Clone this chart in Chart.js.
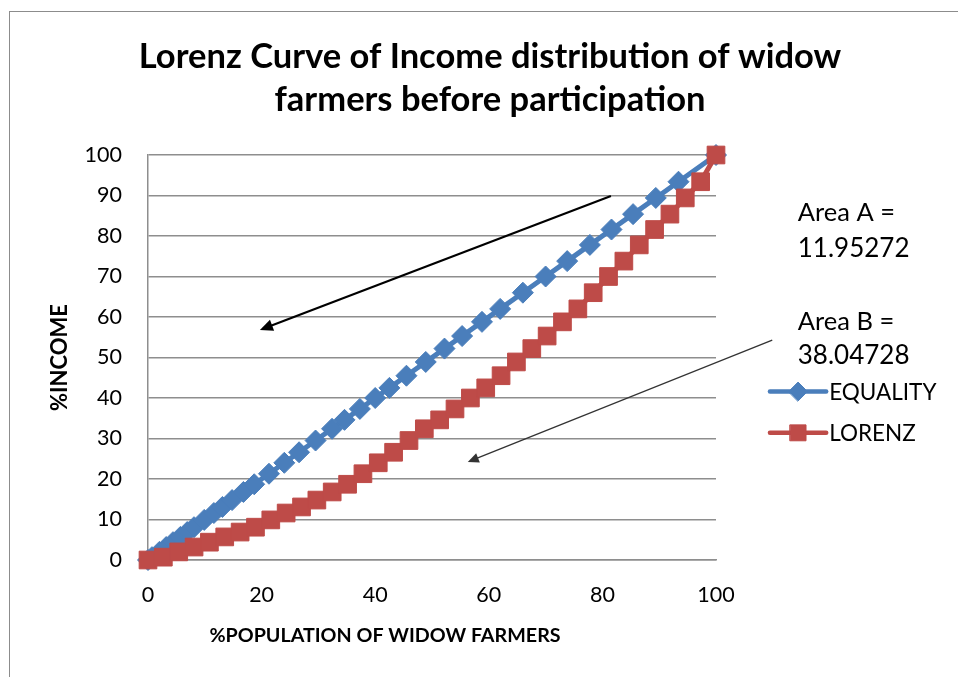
<!DOCTYPE html>
<html><head><meta charset="utf-8">
<script src="https://cdn.jsdelivr.net/npm/chart.js@4/dist/chart.umd.min.js"></script>
<style>
html,body{margin:0;padding:0;background:#fff;overflow:hidden;width:958px;height:677px}
#frame{position:absolute;left:9px;top:11px;width:980px;height:700px;border-left:1.5px solid #8c8c8c;border-top:1.5px solid #8c8c8c}
#wrap{position:absolute;left:0;top:0;width:958px;height:677px}
</style></head><body>
<div id="frame"></div>
<div id="wrap"><canvas id="c" width="958" height="677"></canvas></div>
<script>
// ---- data ----
const populationShare = [0, 2.70, 5.41, 8.11, 10.81, 13.51, 16.22, 18.92, 21.62, 24.32, 27.03, 29.73, 32.43, 35.14, 37.84, 40.54, 43.24, 45.95, 48.65, 51.35, 54.05, 56.76, 59.46, 62.16, 64.86, 67.57, 70.27, 72.97, 75.68, 78.38, 81.08, 83.78, 86.49, 89.19, 91.89, 94.59, 97.30, 100];
const incomeShare = [0, 0.7, 2.0, 3.2, 4.4, 5.7, 6.9, 8.1, 9.9, 11.6, 13.1, 14.8, 16.8, 18.7, 21.3, 24.0, 26.6, 29.5, 32.4, 34.6, 37.3, 40.0, 42.5, 45.5, 48.9, 52.2, 55.3, 58.8, 62.0, 66.0, 70.0, 73.8, 77.8, 81.6, 85.4, 89.4, 93.4, 100];
// equality line: cumulative income share plotted against itself
const equalityShare = [0, 0.7, 2.0, 3.2, 4.4, 5.7, 6.9, 8.1, 9.9, 11.6, 13.1, 14.8, 16.8, 18.7, 21.3, 24.0, 26.6, 29.5, 32.4, 34.6, 37.3, 40.0, 42.5, 45.5, 48.9, 52.2, 55.3, 58.8, 62.0, 66.0, 70.0, 73.8, 77.8, 81.6, 85.4, 89.4, 93.4, 100];
const seriesNames = ['EQUALITY', 'LORENZ'];
const xTickValues = [0, 20, 40, 60, 80, 100];
const yTickValues = [0, 10, 20, 30, 40, 50, 60, 70, 80, 90, 100];
const titleLines = ['Lorenz Curve of Income distribution of widow', 'farmers before participation'];
const xTitle = '%POPULATION OF WIDOW FARMERS';
const yTitle = '%INCOME';
const areaNotes = [['Area A =', '11.95272'], ['Area B =', '38.04728']];

// ---- styles ----
const FONT = 'Lato, "Open Sans", "Liberation Sans", sans-serif';
const BLUE = '#4a7ebb';
const RED = '#be4b48';
const GRID = '#8e8e8e';

const eqData = equalityShare.map(v => ({x: v, y: v}));
const lzData = populationShare.map((v, i) => ({x: v, y: incomeShare[i]}));

const decor = {
  id: 'decor',
  afterDatasetsDraw(chart) {
    const {ctx, scales: {x, y}} = chart;
    const arrows = [
      {from: [81.5, 89.9], to: [19.7, 56.8], color: '#000', width: 2.2, head: 13},
      {from: [109.9, 54.3], to: [56.3, 24.2], color: '#333', width: 1.3, head: 11}
    ];
    ctx.save();
    arrows.forEach(a => {
      const x1 = x.getPixelForValue(a.from[0]), y1 = y.getPixelForValue(a.from[1]);
      const x2 = x.getPixelForValue(a.to[0]), y2 = y.getPixelForValue(a.to[1]);
      const ang = Math.atan2(y2 - y1, x2 - x1);
      const c = Math.cos(ang), s = Math.sin(ang), h = a.head;
      ctx.strokeStyle = a.color; ctx.fillStyle = a.color; ctx.lineWidth = a.width;
      ctx.beginPath();
      ctx.moveTo(x1, y1);
      ctx.lineTo(x2 - c * h * 0.8, y2 - s * h * 0.8);
      ctx.stroke();
      ctx.beginPath();
      ctx.moveTo(x2, y2);
      ctx.lineTo(x2 - c * h + s * h * 0.45, y2 - s * h - c * h * 0.45);
      ctx.lineTo(x2 - c * h - s * h * 0.45, y2 - s * h + c * h * 0.45);
      ctx.closePath();
      ctx.fill();
    });
    ctx.restore();
  },
  afterDraw(chart) {
    const {ctx, scales: {x, y}} = chart;
    ctx.save();
    ctx.fillStyle = '#000';
    // title
    ctx.textAlign = 'center';
    ctx.textBaseline = 'middle';
    ctx.font = 'bold 34.5px ' + FONT;
    ctx.fillText(titleLines[0], 490, 57);
    ctx.fillText(titleLines[1], 490, 100);
    // x axis title
    ctx.font = 'bold 19.7px ' + FONT;
    ctx.fillText(xTitle, 385, 636);
    // area notes
    ctx.textAlign = 'left';
    const noteX = x.getPixelForValue(114.4);
    const noteY = [[85.7, 76.8], [58.8, 50.4]];
    areaNotes.forEach((n, i) => {
      ctx.font = '25.5px ' + FONT;
      ctx.fillText(n[0], noteX, y.getPixelForValue(noteY[i][0]));
      ctx.font = '26px ' + FONT;
      ctx.fillText(n[1], noteX, y.getPixelForValue(noteY[i][1]));
    });
    // legend
    const rows = [41.6, 31.4];
    const lx1 = x.getPixelForValue(109.5), lx2 = x.getPixelForValue(119.4);
    chart.data.datasets.forEach((ds, i) => {
      const ly = y.getPixelForValue(rows[i]);
      ctx.strokeStyle = ds.borderColor; ctx.lineWidth = 4.5; ctx.lineCap = 'round';
      ctx.beginPath(); ctx.moveTo(lx1, ly); ctx.lineTo(lx2, ly); ctx.stroke();
      ctx.fillStyle = ds.pointBackgroundColor;
      ctx.strokeStyle = ds.pointBorderColor;
      ctx.lineWidth = 1;
      Chart.helpers.drawPoint(ctx, {pointStyle: ds.pointStyle, radius: ds.pointRadius * 0.9, borderWidth: 1}, (lx1 + lx2) / 2, ly);
      ctx.fillStyle = '#000';
      ctx.font = '22.5px ' + FONT;
      ctx.fillText(ds.label, lx2 + 3, ly + 1);
    });
    ctx.restore();
  }
};

new Chart(document.getElementById('c'), {
  type: 'scatter',
  data: {
    datasets: [
      {label: seriesNames[0], data: eqData, order: 1, showLine: true, clip: false, borderColor: BLUE, backgroundColor: BLUE,
       pointBackgroundColor: BLUE, pointBorderColor: BLUE, borderWidth: 5, pointStyle: 'rectRot', pointRadius: 10.5, pointBorderWidth: 1},
      {label: seriesNames[1], data: lzData, order: 0, showLine: true, clip: false, borderColor: RED, backgroundColor: RED,
       pointBackgroundColor: RED, pointBorderColor: RED, borderWidth: 5, pointStyle: 'rect', pointRadius: 12.5, pointBorderWidth: 1}
    ]
  },
  options: {
    responsive: false, animation: false, devicePixelRatio: 1,
    layout: {padding: {left: 0, right: 242, top: 155, bottom: 0}},
    plugins: {legend: {display: false}, tooltip: {enabled: false}, title: {display: false}},
    scales: {
      x: {
        type: 'linear', min: 0, max: 100,
        afterBuildTicks: s => { s.ticks = xTickValues.map(v => ({value: v})); },
        afterFit: s => { s.height = 117; },
        grid: {display: false, drawTicks: false},
        border: {display: true, color: GRID, width: 1.5},
        ticks: {padding: 22, color: '#000', font: {family: FONT, size: 21.5}},
        title: {display: false}
      },
      y: {
        type: 'linear', min: 0, max: 100,
        afterBuildTicks: s => { s.ticks = yTickValues.map(v => ({value: v})); },
        afterFit: s => { s.width = 148; },
        grid: {display: true, drawTicks: false, color: GRID, lineWidth: 1.5},
        border: {display: true, color: GRID, width: 1.5},
        ticks: {padding: 26, color: '#000', font: {family: FONT, size: 21.5}},
        title: {display: true, text: yTitle, color: '#000', font: {family: FONT, size: 22, weight: 'bold'}, padding: {top: 47, bottom: 0}}
      }
    }
  },
  plugins: [decor]
});
</script>
</body></html>
